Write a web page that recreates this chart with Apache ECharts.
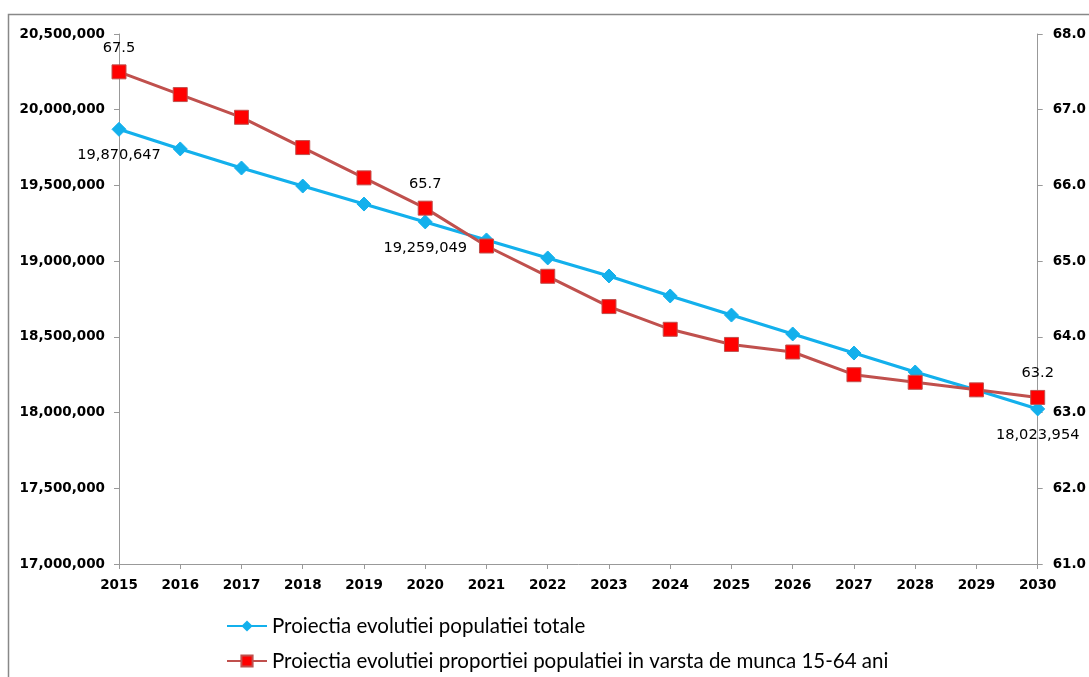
<!DOCTYPE html>
<html><head><meta charset="utf-8">
<script src="https://cdn.jsdelivr.net/npm/echarts@6/dist/echarts.min.js"></script>
<style>html,body{margin:0;padding:0;background:#fff}#c{width:1089px;height:677px}</style>
</head><body><div id="c"></div>
<script>
const years = ['2015','2016','2017','2018','2019','2020','2021','2022','2023','2024','2025','2026','2027','2028','2029','2030'];
const populatieTotala = [19870647,19741000,19615000,19496000,19377000,19259049,19140000,19021000,18902000,18770000,18644000,18519000,18393000,18268000,18149000,18023954];
const proportieMunca = [67.5,67.2,66.9,66.5,66.1,65.7,65.2,64.8,64.4,64.1,63.9,63.8,63.5,63.4,63.3,63.2];
const labelledIdx = [0,5,15];
const leftTicks = {min:17000000,max:20500000,interval:500000};
const rightTicks = {min:61,max:68,interval:1};
const seriesNames = ['Proiectia evolutiei populatiei totale','Proiectia evolutiei proportiei populatiei in varsta de munca 15-64 ani'];

const fmtNum = v => v.toLocaleString('en-US');
const font = 'DejaVu Sans';
const legendBase = {orient:'horizontal',left:221,itemWidth:40,itemHeight:14,
    textStyle:{fontFamily:'Lato',fontSize:20.5,color:'#000',lineHeight:24}};
const chart = echarts.init(document.getElementById('c'));
chart.setOption({
  animation:false,
  graphic:[{type:'rect',shape:{x:8.5,y:14.5,width:1100,height:700},style:{fill:'none',stroke:'#888',lineWidth:1.5},silent:true}],
  grid:{left:119,right:51,top:34,bottom:113},
  legend:[
    Object.assign({},legendBase,{top:609,data:[seriesNames[0]]}),
    Object.assign({},legendBase,{top:644,data:[seriesNames[1]]})
  ],
  xAxis:{type:'category',data:years,boundaryGap:false,
    axisLine:{lineStyle:{color:'#999',width:1}},axisTick:{show:true,alignWithLabel:true,length:5,lineStyle:{color:'#999'}},
    axisLabel:{fontFamily:font,fontWeight:'bold',fontSize:13.5,color:'#000',margin:14},splitLine:{show:false}},
  yAxis:[
    {type:'value',min:leftTicks.min,max:leftTicks.max,interval:leftTicks.interval,position:'left',
     axisLine:{show:true,lineStyle:{color:'#999'}},axisTick:{show:true,length:5,lineStyle:{color:'#999'}},
     axisLabel:{fontFamily:font,fontWeight:'bold',fontSize:13.5,color:'#000',margin:14,formatter:fmtNum},splitLine:{show:false}},
    {type:'value',min:rightTicks.min,max:rightTicks.max,interval:rightTicks.interval,position:'right',
     axisLine:{show:true,lineStyle:{color:'#999'}},axisTick:{show:true,length:5,lineStyle:{color:'#999'}},
     axisLabel:{fontFamily:font,fontWeight:'bold',fontSize:13.5,color:'#000',margin:15,formatter:v=>v.toFixed(1)},splitLine:{show:false}}
  ],
  series:[
    {name:seriesNames[0],type:'line',yAxisIndex:0,
     data:populatieTotala.map((v,i)=>({value:v,label:{show:labelledIdx.includes(i)}})),
     symbol:'diamond',symbolSize:14,
     lineStyle:{color:'#13B0EC',width:3.2},itemStyle:{color:'#13B0EC',borderColor:'#13B0EC'},
     label:{position:'bottom',offset:[0,6],fontFamily:font,fontSize:14.6,color:'#000',formatter:p=>fmtNum(p.value)},z:2},
    {name:seriesNames[1],type:'line',yAxisIndex:1,
     data:proportieMunca.map((v,i)=>({value:v,label:{show:labelledIdx.includes(i)}})),
     symbol:'rect',symbolSize:14,
     lineStyle:{color:'#C0504D',width:3},itemStyle:{color:'#FF0000',borderColor:'#C0504D',borderWidth:1},
     label:{position:'top',offset:[0,-4],fontFamily:font,fontSize:14.6,color:'#000',formatter:p=>p.value.toFixed(1)},z:3}
  ]
});
</script></body></html>
